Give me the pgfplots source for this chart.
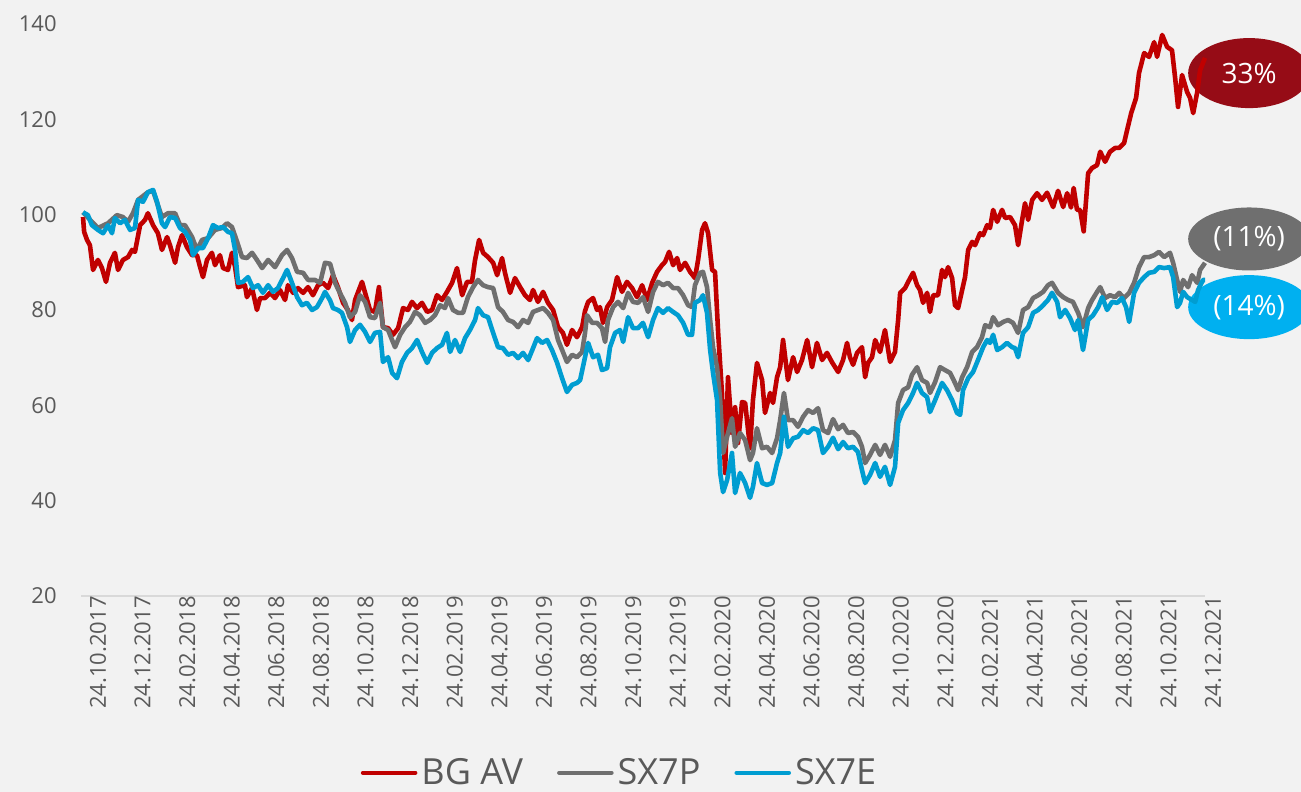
\documentclass[border=0pt]{standalone}
\usepackage{pgfplots}
\pgfplotsset{compat=1.18}
\usepackage{fontspec}
\setmainfont{Open Sans}
\definecolor{bgcol}{HTML}{F2F2F2}
\definecolor{txt}{HTML}{595959}
\definecolor{redl}{HTML}{C00000}
\definecolor{greyl}{HTML}{6F6F6F}
\definecolor{bluel}{HTML}{009DD1}
\definecolor{redell}{HTML}{960C16}
\definecolor{blueell}{HTML}{00B0F0}
\definecolor{axl}{HTML}{D9D9D9}
\begin{document}
\begin{tikzpicture}
\useasboundingbox (0,0) rectangle (650.5pt,396pt);
\fill[bgcol] (0,0) rectangle (650.5pt,396pt);
\begin{scope}
\clip (0,0) rectangle (650.5pt,396pt);
\begin{axis}[
  at={(40.5pt,98pt)}, anchor=south west,
  scale only axis, width=562pt, height=286pt,
  xmin=-0.09, xmax=50.31, ymin=20, ymax=140,
  clip=false,
  axis lines*=left,
  x axis line style={axl, line width=0.9pt},
  y axis line style={draw=none},
  major tick length=0pt,
  tick style={draw=none},
  ytick={20,40,...,140},
  xtick={0,2,...,50},
  xticklabels={24.10.2017,24.12.2017,24.02.2018,24.04.2018,24.06.2018,24.08.2018,24.10.2018,24.12.2018,24.02.2019,24.04.2019,24.06.2019,24.08.2019,24.10.2019,24.12.2019,24.02.2020,24.04.2020,24.06.2020,24.08.2020,24.10.2020,24.12.2020,24.02.2021,24.04.2021,24.06.2021,24.08.2021,24.10.2021,24.12.2021},
  /pgf/number format/assume math mode=true,
  xticklabel style={rotate=90, anchor=east, inner sep=0pt, font=\fontsize{11}{13}\selectfont, text=txt, yshift=-7.5pt},
  yticklabel style={anchor=east, inner sep=0pt, font=\fontsize{11}{13}\selectfont, text=txt, xshift=-12pt},
  legend columns=3,
  legend style={at={(0.48,-0.276)}, anchor=north, draw=none, fill=none, inner sep=0pt,
    font=\fontsize{18}{20}\selectfont, text=txt,
    /tikz/every even column/.append style={column sep=15pt}},
  legend image code/.code={\draw[#1, line cap=round] (0pt,0pt) -- (26pt,0pt);},
  every axis plot/.append style={line width=2.3pt, line join=round},
]
\fill[redell] (axis cs:52.29,129.7) ellipse [x radius=30.5pt, y radius=17.5pt];
\fill[greyl] (axis cs:52.29,94.9) ellipse [x radius=30.5pt, y radius=15.75pt];
\fill[blueell] (axis cs:52.29,80.6) ellipse [x radius=30.5pt, y radius=16pt];
\node[text=white, font=\fontsize{14}{16}\selectfont] at (axis cs:52.29,129.7) {33\%};
\node[text=white, font=\fontsize{14}{16}\selectfont] at (axis cs:52.29,94.9) {(11\%)};
\node[text=white, font=\fontsize{14}{16}\selectfont] at (axis cs:52.29,80.6) {(14\%)};

\addplot[redl] coordinates {(0,99.5)(0.05,96.4)(0.18,94.7)(0.31,93.6)(0.45,88.4)(0.67,90.5)(0.85,88.8)(1.03,85.9)(1.21,89.9)(1.43,92.0)(1.57,88.4)(1.79,90.5)(2.02,91.1)(2.20,92.6)(2.33,92.2)(2.56,97.8)(2.78,98.9)(2.91,100.3)(3.14,97.8)(3.36,96.1)(3.54,92.6)(3.77,95.3)(3.90,93.6)(4.13,89.9)(4.26,93.2)(4.44,95.7)(4.66,93.2)(4.89,91.5)(5.11,91.5)(5.25,89.0)(5.38,86.9)(5.56,90.5)(5.78,92.0)(5.92,89.4)(6.14,91.5)(6.28,88.8)(6.50,88.4)(6.68,92.0)(6.82,89.0)(6.95,84.8)(7.26,85.2)(7.35,82.7)(7.58,84.6)(7.80,80.0)(7.94,82.5)(8.16,82.5)(8.39,83.6)(8.61,82.5)(8.83,84.2)(9.06,82.1)(9.19,85.2)(9.42,83.6)(9.64,84.6)(9.87,83.6)(10.09,84.8)(10.31,83.1)(10.54,85.2)(10.76,85.7)(10.99,84.6)(11.21,87.3)(11.43,84.8)(11.66,81.5)(11.88,80.0)(12.06,77.9)(12.20,82.1)(12.51,85.9)(12.65,83.6)(12.87,80.0)(13.09,79.6)(13.27,84.8)(13.45,76.4)(13.68,76.2)(13.90,74.8)(14.13,76.2)(14.35,80.4)(14.57,80.0)(14.75,81.7)(14.98,80.4)(15.20,81.5)(15.43,79.6)(15.65,80.0)(15.87,83.1)(16.10,82.1)(16.32,83.8)(16.55,85.7)(16.77,88.8)(17.00,83.1)(17.22,85.9)(17.44,85.9)(17.58,90.5)(17.76,94.7)(17.94,92.0)(18.16,91.1)(18.39,89.9)(18.57,87.3)(18.79,90.9)(18.92,87.8)(19.15,83.6)(19.37,86.7)(19.60,84.8)(19.82,83.1)(20.04,82.1)(20.18,84.2)(20.40,81.7)(20.63,83.8)(20.85,81.5)(21.08,80.0)(21.30,76.4)(21.52,75.2)(21.70,72.7)(21.93,75.8)(22.15,74.3)(22.38,76.4)(22.51,79.8)(22.65,81.7)(22.87,82.5)(23.05,80.0)(23.18,80.6)(23.32,77.3)(23.50,80.6)(23.72,82.1)(23.95,86.9)(24.17,83.8)(24.39,85.9)(24.62,84.6)(24.84,82.7)(25.07,85.2)(25.29,82.1)(25.52,85.7)(25.74,88.0)(25.96,89.4)(26.10,90.1)(26.28,92.2)(26.46,89.4)(26.64,90.9)(26.77,88.4)(27.00,89.9)(27.22,88.0)(27.44,86.7)(27.58,90.5)(27.76,96.8)(27.89,98.2)(28.03,96.1)(28.21,88.4)(28.34,88.0)(28.48,75.2)(28.65,62.6)(28.79,45.8)(28.92,65.9)(29.10,54.2)(29.24,59.6)(29.37,52.1)(29.55,60.7)(29.69,60.5)(29.91,51.0)(30.04,61.1)(30.22,68.9)(30.45,65.3)(30.58,58.4)(30.81,62.6)(30.94,60.5)(31.12,65.9)(31.26,68.0)(31.39,73.7)(31.61,65.3)(31.84,70.1)(32.02,67.0)(32.24,69.5)(32.47,73.7)(32.69,68.0)(32.91,73.1)(33.14,69.5)(33.36,71.0)(33.59,69.0)(33.86,67.0)(34.08,69.5)(34.26,73.1)(34.39,70.1)(34.53,68.5)(34.71,71.0)(34.93,72.2)(35.07,65.9)(35.20,68.9)(35.38,70.1)(35.52,73.7)(35.74,71.2)(35.96,75.8)(36.19,69.1)(36.41,71.2)(36.55,77.9)(36.64,83.6)(36.86,84.6)(37.00,85.9)(37.22,87.8)(37.40,85.2)(37.53,84.2)(37.67,81.5)(37.85,83.6)(37.98,79.6)(38.12,83.1)(38.34,83.1)(38.52,88.4)(38.65,86.9)(38.79,89.0)(38.97,86.7)(39.10,81.0)(39.24,80.4)(39.42,84.2)(39.55,86.9)(39.69,92.6)(39.87,94.3)(40.00,93.6)(40.22,96.1)(40.36,95.7)(40.54,97.8)(40.67,97.2)(40.81,101.0)(40.99,98.5)(41.21,101.0)(41.35,99.3)(41.57,99.5)(41.79,97.8)(41.93,93.6)(42.11,98.9)(42.24,102.4)(42.38,98.9)(42.56,103.1)(42.78,104.5)(43.00,103.1)(43.23,104.6)(43.50,101.6)(43.72,105.0)(43.95,101.6)(44.13,104.5)(44.30,101.5)(44.42,105.6)(44.57,101.0)(44.71,101.0)(44.87,96.5)(45.07,108.7)(45.25,109.8)(45.47,110.4)(45.61,113.2)(45.83,111.1)(46.05,113.2)(46.28,114.0)(46.46,114.0)(46.68,115.0)(46.82,117.8)(47.00,121.3)(47.22,124.5)(47.35,129.7)(47.58,133.9)(47.80,133.1)(48.03,136.2)(48.16,133.1)(48.39,137.7)(48.61,135.2)(48.83,134.5)(48.97,128.7)(49.10,122.6)(49.28,129.3)(49.51,125.7)(49.64,124.5)(49.78,121.3)(49.96,125.7)(50.09,130.3)(50.31,132.9)};
\addlegendentry{BG AV}

\addplot[greyl] coordinates {(0,100.5)(0.40,98.5)(0.67,97.2)(1.12,98.2)(1.52,99.9)(1.79,99.5)(2.02,98.5)(2.24,100.3)(2.47,103.1)(2.91,104.7)(3.14,105.0)(3.32,102.5)(3.54,99.5)(3.81,100.3)(4.13,100.3)(4.35,97.8)(4.57,97.8)(4.89,95.3)(5.11,92.6)(5.34,94.7)(5.61,95.1)(5.92,96.8)(6.23,97.2)(6.46,98.2)(6.68,97.4)(6.91,94.3)(7.13,91.1)(7.35,90.9)(7.58,92.0)(7.80,90.5)(8.03,88.8)(8.30,90.5)(8.61,89.0)(8.92,91.5)(9.15,92.6)(9.37,90.9)(9.60,88.0)(9.87,87.8)(10.09,86.3)(10.40,86.3)(10.63,85.7)(10.85,89.9)(11.08,89.7)(11.21,87.5)(11.30,85.7)(11.52,83.6)(11.75,81.5)(11.97,78.5)(12.20,79.6)(12.42,83.1)(12.65,81.7)(12.87,78.5)(13.09,78.3)(13.32,81.5)(13.45,76.4)(13.68,75.8)(13.99,72.2)(14.22,74.8)(14.44,76.4)(14.66,77.5)(14.89,79.6)(15.11,78.9)(15.34,77.3)(15.56,77.9)(15.78,78.9)(16.01,81.0)(16.23,80.4)(16.37,82.5)(16.59,80.0)(16.82,79.4)(17.04,79.4)(17.26,82.7)(17.49,84.8)(17.71,86.3)(17.94,85.2)(18.16,84.8)(18.39,84.6)(18.61,80.6)(18.83,79.6)(19.06,77.9)(19.28,77.5)(19.51,76.4)(19.73,77.9)(19.96,77.3)(20.18,79.6)(20.40,80.0)(20.63,80.4)(20.85,79.4)(21.08,77.9)(21.30,73.7)(21.52,71.2)(21.70,69.1)(21.93,70.6)(22.15,70.1)(22.38,71.2)(22.51,75.2)(22.60,78.9)(22.83,77.3)(23.05,77.3)(23.27,76.2)(23.41,73.3)(23.54,77.9)(23.77,80.6)(23.99,81.7)(24.22,80.4)(24.44,83.6)(24.66,81.7)(24.89,81.5)(25.11,82.7)(25.34,79.6)(25.56,83.8)(25.78,85.9)(26.01,85.2)(26.23,85.7)(26.46,84.6)(26.68,84.6)(26.91,83.1)(27.13,81.0)(27.31,80.6)(27.44,85.2)(27.67,87.8)(27.80,88.0)(27.98,84.8)(28.12,77.9)(28.25,72.2)(28.43,68.0)(28.57,61.1)(28.70,50.0)(28.88,53.4)(29.10,57.3)(29.24,51.3)(29.46,54.2)(29.69,52.7)(29.91,48.5)(30.04,50.0)(30.22,55.2)(30.45,51.0)(30.67,51.3)(30.90,50.0)(31.12,53.1)(31.26,56.9)(31.43,62.6)(31.61,56.9)(31.84,56.9)(32.06,55.5)(32.29,57.6)(32.51,59.0)(32.74,58.4)(32.96,59.4)(33.18,54.8)(33.41,54.2)(33.63,57.1)(33.86,55.0)(34.08,55.9)(34.30,54.2)(34.53,54.4)(34.75,53.4)(34.93,51.3)(35.07,47.9)(35.29,49.6)(35.52,51.7)(35.74,49.6)(35.96,51.7)(36.19,49.2)(36.41,52.7)(36.55,60.5)(36.77,63.2)(37.00,63.8)(37.17,66.4)(37.40,68.0)(37.62,65.3)(37.85,64.7)(37.98,62.6)(38.21,64.9)(38.43,68.0)(38.65,67.4)(38.88,66.8)(39.10,64.7)(39.24,63.2)(39.42,65.9)(39.64,68.0)(39.87,71.2)(40.09,72.2)(40.31,74.3)(40.45,76.8)(40.67,76.4)(40.81,78.5)(41.03,76.8)(41.26,77.5)(41.48,77.9)(41.70,77.3)(41.93,75.2)(42.15,80.0)(42.38,80.6)(42.60,82.5)(42.83,83.1)(43.05,83.8)(43.27,85.2)(43.45,85.7)(43.72,83.6)(43.95,82.7)(44.17,82.1)(44.39,81.7)(44.62,79.4)(44.84,76.4)(45.07,80.4)(45.25,82.1)(45.47,83.8)(45.61,84.8)(45.83,82.5)(46.05,83.1)(46.28,82.7)(46.46,83.6)(46.68,82.5)(46.91,83.6)(47.13,85.7)(47.35,89.0)(47.58,91.1)(47.80,91.1)(48.03,91.5)(48.25,92.2)(48.48,91.1)(48.74,92.0)(48.88,89.9)(49.06,86.3)(49.19,83.8)(49.33,86.3)(49.55,84.8)(49.73,87.3)(49.96,85.7)(50.09,88.4)(50.31,89.9)};
\addlegendentry{SX7P}

\addplot[bluel] coordinates {(0,100.5)(0.22,99.9)(0.40,97.8)(0.67,96.8)(0.90,96.1)(1.12,97.8)(1.30,96.1)(1.43,99.3)(1.66,98.2)(1.88,98.9)(2.11,96.8)(2.33,97.2)(2.47,103.1)(2.69,102.7)(2.91,104.7)(3.14,105.2)(3.32,102.7)(3.54,98.2)(3.68,97.4)(3.90,99.5)(4.13,99.3)(4.35,97.2)(4.57,96.4)(4.80,94.7)(4.93,91.5)(5.16,93.0)(5.38,93.0)(5.61,95.1)(5.83,97.8)(6.05,97.2)(6.28,97.4)(6.50,96.4)(6.68,96.1)(6.82,92.6)(6.95,85.7)(7.17,85.9)(7.40,86.9)(7.62,84.6)(7.85,85.2)(8.07,83.6)(8.30,85.2)(8.52,83.8)(8.74,84.6)(8.97,86.7)(9.15,88.4)(9.37,85.7)(9.60,82.7)(9.82,81.0)(10.04,81.5)(10.27,80.0)(10.49,80.6)(10.72,82.5)(10.85,83.8)(11.08,82.0)(11.21,80.4)(11.43,80.0)(11.61,79.4)(11.84,76.4)(11.97,73.3)(12.20,75.8)(12.42,76.9)(12.65,75.4)(12.87,73.3)(13.09,75.2)(13.32,75.4)(13.45,69.1)(13.68,70.1)(13.86,66.8)(14.08,65.7)(14.30,69.1)(14.53,71.0)(14.75,72.0)(14.98,73.7)(15.20,71.2)(15.43,68.9)(15.65,71.0)(15.87,72.0)(16.10,72.7)(16.32,75.2)(16.46,71.2)(16.68,73.7)(16.91,71.2)(17.13,74.1)(17.35,75.8)(17.58,77.9)(17.71,80.4)(17.94,78.9)(18.16,78.5)(18.39,75.2)(18.61,72.2)(18.83,72.0)(19.06,70.6)(19.28,71.0)(19.51,69.9)(19.73,71.0)(19.96,69.5)(20.18,72.0)(20.36,74.1)(20.58,73.1)(20.81,73.7)(21.03,71.6)(21.26,68.9)(21.48,65.7)(21.70,62.8)(21.93,64.3)(22.15,64.7)(22.29,65.3)(22.51,70.1)(22.65,73.1)(22.87,70.1)(23.09,70.6)(23.27,67.4)(23.50,67.8)(23.63,72.2)(23.86,75.2)(24.08,75.8)(24.22,73.3)(24.44,78.5)(24.66,76.2)(24.89,76.2)(25.11,77.3)(25.34,74.3)(25.56,77.9)(25.78,80.4)(26.01,79.4)(26.23,80.4)(26.46,79.6)(26.68,78.9)(26.91,77.3)(27.13,74.8)(27.31,74.8)(27.44,81.5)(27.67,82.1)(27.80,83.1)(27.98,79.4)(28.12,71.6)(28.25,66.8)(28.43,61.1)(28.57,45.8)(28.70,41.8)(28.88,44.3)(29.10,50.0)(29.24,41.6)(29.46,45.8)(29.69,43.7)(29.91,40.6)(30.04,42.9)(30.22,47.9)(30.45,43.7)(30.67,43.3)(30.90,43.7)(31.12,47.9)(31.26,50.0)(31.43,57.6)(31.61,51.3)(31.84,53.1)(32.06,53.4)(32.29,54.8)(32.51,54.2)(32.74,55.2)(32.96,54.8)(33.18,50.0)(33.41,51.3)(33.63,53.2)(33.86,50.8)(34.08,52.3)(34.30,51.0)(34.53,51.3)(34.75,50.2)(34.93,46.4)(35.07,43.7)(35.29,45.4)(35.52,47.9)(35.74,45.0)(35.96,47.1)(36.19,43.3)(36.41,47.1)(36.55,56.3)(36.77,59.0)(37.00,60.5)(37.22,62.6)(37.40,64.7)(37.62,62.6)(37.85,61.7)(37.98,58.6)(38.21,61.1)(38.52,64.7)(38.74,63.2)(38.97,61.1)(39.19,58.4)(39.33,58.0)(39.46,63.2)(39.69,65.7)(39.91,67.0)(40.13,69.5)(40.36,72.2)(40.54,73.7)(40.67,73.1)(40.81,74.8)(40.99,71.6)(41.21,72.2)(41.43,73.1)(41.66,72.2)(41.79,72.0)(41.93,70.1)(42.15,75.2)(42.38,76.4)(42.60,79.4)(42.83,80.0)(43.05,81.0)(43.27,82.1)(43.45,83.6)(43.68,81.7)(43.81,78.5)(44.04,80.0)(44.26,78.3)(44.48,75.8)(44.62,77.9)(44.84,71.6)(45.07,77.9)(45.29,78.9)(45.52,80.6)(45.70,82.7)(45.92,80.0)(46.14,81.7)(46.37,81.5)(46.59,82.5)(46.77,80.6)(46.91,77.5)(47.13,83.6)(47.35,85.7)(47.58,86.9)(47.80,87.8)(48.03,88.0)(48.25,89.0)(48.48,88.8)(48.74,89.0)(48.88,86.9)(49.06,80.6)(49.19,81.5)(49.33,83.8)(49.51,82.7)(49.73,82.1)(49.87,81.7)(50.00,84.2)(50.22,86.3)(50.31,86.3)};
\addlegendentry{SX7E}
\end{axis}
\end{scope}
\end{tikzpicture}
\end{document}
